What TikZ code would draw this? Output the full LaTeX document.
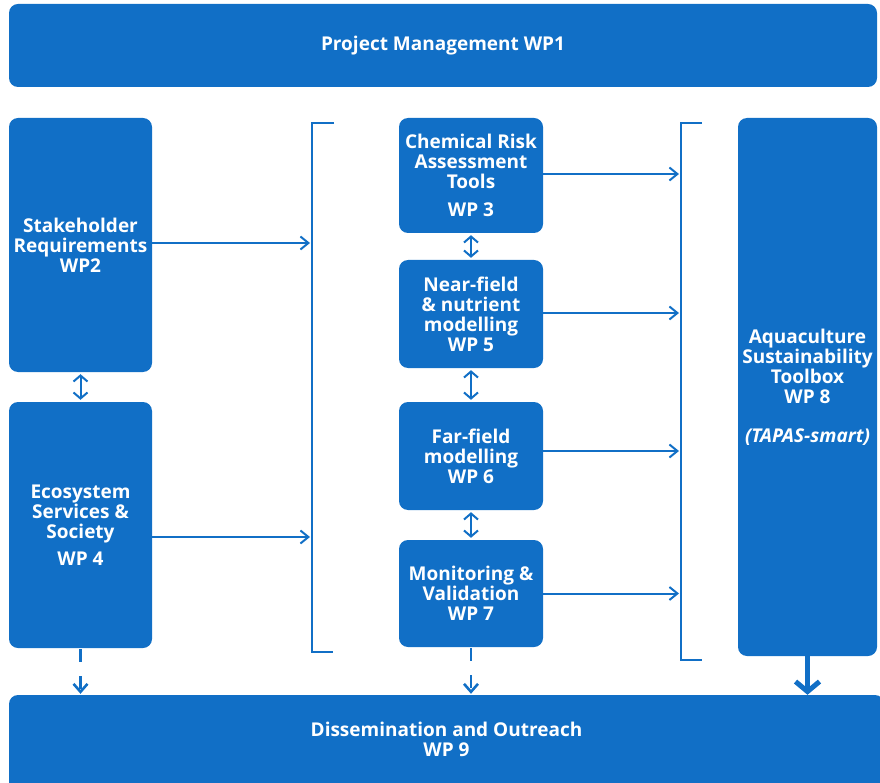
\documentclass[tikz,border=0pt]{standalone}
\usepackage{fontspec}
\setmainfont{Open Sans}
\usetikzlibrary{positioning, backgrounds, arrows.meta}
\definecolor{wpblue}{RGB}{17,111,198}

\begin{document}
\begin{tikzpicture}[
  x=1pt, y=-1pt,
  wp/.style    = {rectangle, fill=wpblue, text=white, rounded corners=9pt, align=center, inner sep=0pt, font=\bfseries\fontsize{19}{20}\selectfont},
  link/.style  = {wpblue, line width=2pt, shorten >=2pt, -{Straight Barb[length=8pt,width=13pt]}},
  both/.style  = {wpblue, line width=2pt, shorten <=2pt, shorten >=2pt, {Straight Barb[length=6pt,width=14pt]}-{Straight Barb[length=6pt,width=14pt]}},
  feed/.style  = {wpblue, line width=2.6pt, dash pattern=on 13pt off 14pt, shorten <=1pt, shorten >=1pt, -{Straight Barb[length=8pt,width=14pt]}},
  thick/.style = {wpblue, line width=5pt, shorten >=0pt, -{Straight Barb[length=10pt,width=24pt]}},
  brace/.style = {wpblue, line width=2.6pt},
  ]
  \useasboundingbox (0,0) rectangle (880,783);

  % Management and dissemination
  \node (wp1) at (443,45.5)  [wp, minimum width=868pt, minimum height=83pt] {Project Management WP1};
  \node (wp9) at (446.5,739) [wp, minimum width=875pt, minimum height=88pt] {Dissemination and Outreach\\WP 9};
  \begin{scope}[on background layer]
    \fill[wpblue] (wp9.west) rectangle (wp9.south east);
  \end{scope}

  % Inputs
  \node (wp2) at (80.5,245)  [wp, minimum width=143pt, minimum height=254pt] {Stakeholder\\Requirements\\WP2};
  \node (wp4) at (80.5,525)  [wp, minimum width=143pt, minimum height=246pt] {Ecosystem\\Services \&\\Society\\[7pt]WP 4};

  % Modelling work packages
  \node (wp3) at (471,175.5) [wp, minimum width=144pt, minimum height=115pt] {Chemical Risk\\Assessment\\Tools\\[8pt]WP 3};
  \node (wp5) at (471,314)   [wp, minimum width=144pt, minimum height=108pt] {Near-field\\\& nutrient\\modelling\\WP 5};
  \node (wp6) at (471,456)   [wp, minimum width=144pt, minimum height=108pt] {Far-field\\modelling\\WP 6};
  \node (wp7) at (471,593.5) [wp, minimum width=144pt, minimum height=107pt] {Monitoring \&\\Validation\\WP 7};

  % Toolbox
  \node (wp8) at (807.5,387) [wp, minimum width=139pt, minimum height=538pt] {Aquaculture\\Sustainability\\Toolbox\\WP 8\\[19pt]\textit{(TAPAS-smart)}};

  % Brackets
  \coordinate (lbtop) at (312,123);
  \coordinate (lbbot) at (312,652);
  \coordinate (rbtop) at (681,123);
  \coordinate (rbbot) at (681,660);
  \draw[brace] ([xshift=22pt]lbtop) -- (lbtop) -- (lbbot) -- ([xshift=21pt]lbbot);
  \draw[brace] ([xshift=21pt]rbtop) -- (rbtop) -- (rbbot) -- ([xshift=21pt]rbbot);

  % Inputs to modelling
  \draw
  ([yshift=  2pt]wp2.east) edge [link] ([yshift=  2pt]wp2.east -| lbtop)
  ([yshift=-12pt]wp4.east) edge [link] ([yshift=-12pt]wp4.east -| lbtop)
  (wp2.south)              edge [both] (wp4.north);

  % Modelling to toolbox
  \draw
  ([yshift=1.5pt]wp3.east) edge [link] ([yshift=1.5pt]wp3.east -| rbtop)
  ([yshift=  1pt]wp5.east) edge [link] ([yshift=  1pt]wp5.east -| rbtop)
  ([yshift=  5pt]wp6.east) edge [link] ([yshift=  5pt]wp6.east -| rbtop)
  (wp7.east)               edge [link] (wp7.east -| rbtop)
  (wp3.south)              edge [both] (wp5.north)
  (wp5.south)              edge [both] (wp6.north)
  (wp6.south)              edge [both] (wp7.north);

  % Outputs to dissemination
  \draw
  (wp4.south) edge [feed]  (wp4.south |- wp9.north)
  (wp7.south) edge [feed]  (wp7.south |- wp9.north)
  (wp8.south) edge [thick] (wp8.south |- wp9.north);
\end{tikzpicture}
\end{document}
